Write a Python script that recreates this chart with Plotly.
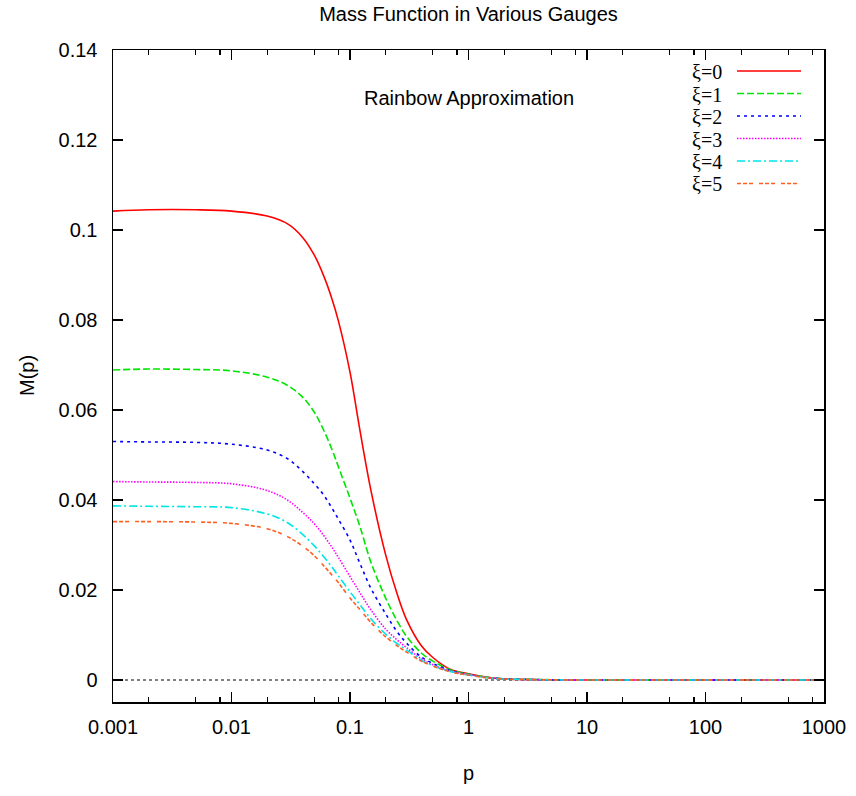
import plotly.graph_objects as go

# ---- data ----
p = [0.001, 0.002, 0.005, 0.01, 0.02, 0.03, 0.04, 0.05, 0.06, 0.07, 0.08, 0.1,
     0.12, 0.15, 0.2, 0.25, 0.3, 0.4, 0.5, 0.7, 1, 1.5, 2, 3, 5, 10, 100, 1000]

m_xi0 = [0.1042, 0.1045, 0.1045, 0.1042, 0.1031, 0.1013, 0.0983, 0.0944, 0.0898, 0.0849,
         0.0797, 0.0684, 0.0562, 0.0422, 0.0278, 0.0191, 0.0134, 0.0076, 0.0050, 0.0024,
         0.0014, 0.00056, 0.00022, 0.00011, 0.00004, 0.0, 0.0, 0.0]
m_xi1 = [0.0689, 0.0691, 0.0690, 0.0687, 0.0673, 0.0654, 0.0628, 0.0595, 0.0555, 0.0514,
         0.0473, 0.0404, 0.0345, 0.0262, 0.0182, 0.0131, 0.0097, 0.0060, 0.0042, 0.0023,
         0.0013, 0.00056, 0.00029, 0.00016, 0.00007, 0.0, 0.0, 0.0]
m_xi2 = [0.0530, 0.0529, 0.0528, 0.0524, 0.0511, 0.0491, 0.0463, 0.0436, 0.0411, 0.0383,
         0.0357, 0.0311, 0.0262, 0.0204, 0.0147, 0.0107, 0.0082, 0.0051, 0.0037, 0.0021,
         0.0012, 0.00051, 0.00027, 0.00013, 0.00004, 0.0, 0.0, 0.0]
m_xi3 = [0.0441, 0.0440, 0.0439, 0.0436, 0.0421, 0.0399, 0.0372, 0.0347, 0.0321, 0.0296,
         0.0272, 0.0230, 0.0196, 0.0156, 0.0113, 0.0089, 0.0072, 0.0047, 0.0034, 0.0020,
         0.0012, 0.00049, 0.00024, 0.00011, 0.00004, 0.0, 0.0, 0.0]
m_xi4 = [0.0387, 0.0386, 0.0385, 0.0383, 0.0369, 0.0349, 0.0323, 0.0298, 0.0274, 0.0252,
         0.0231, 0.0196, 0.0169, 0.0136, 0.0102, 0.0081, 0.0067, 0.0044, 0.0032, 0.0019,
         0.0011, 0.00044, 0.00022, 0.00011, 0.00004, 0.0, 0.0, 0.0]
m_xi5 = [0.0352, 0.0352, 0.0351, 0.0348, 0.0336, 0.0318, 0.0297, 0.0276, 0.0254, 0.0234,
         0.0216, 0.0182, 0.0158, 0.0128, 0.0096, 0.0076, 0.0062, 0.0042, 0.0031, 0.0018,
         0.0011, 0.00044, 0.00022, 0.00011, 0.00004, 0.0, 0.0, 0.0]

series_names = ["ξ=0", "ξ=1", "ξ=2", "ξ=3", "ξ=4", "ξ=5"]
series_vals = [m_xi0, m_xi1, m_xi2, m_xi3, m_xi4, m_xi5]

x_tickvals = [0.001, 0.01, 0.1, 1, 10, 100, 1000]
x_ticktext = ["0.001", "0.01", "0.1", "1", "10", "100", "1000"]
y_tickvals = [0, 0.02, 0.04, 0.06, 0.08, 0.1, 0.12, 0.14]
y_ticktext = ["0", "0.02", "0.04", "0.06", "0.08", "0.1", "0.12", "0.14"]

# ---- styles ----
colors = ["#ff0000", "#00e600", "#0000ff", "#ff00ff", "#00e6e6", "#ff6020"]
dashes = ["solid", "7px,3px", "3px,4px", "1.5px,1.5px", "8px,3px,2px,3px", "4px,2px,4px,2px,4px,6px"]

W, H = 856, 796
PL, PR, PT, PB = 113, 824, 50, 702          # plot box in page pixels
L, R, T, B = PL, W - PR, PT, H - PB
pw, ph = PR - PL, PB - PT

def px2x(x):
    return (x - PL) / pw

def px2y(y):
    return (PB - y) / ph

sans = "Liberation Sans, Arial, sans-serif"
serif = "Liberation Serif, Times New Roman, serif"

fig = go.Figure()
for name, vals, c, d in zip(series_names, series_vals, colors, dashes):
    fig.add_trace(go.Scatter(x=p, y=vals, mode="lines", name=name,
                             line=dict(color=c, width=1.6, dash=d, shape="spline", smoothing=1.0),
                             showlegend=False))

minor_vals = []
for dec in [0.001, 0.01, 0.1, 1, 10, 100]:
    for k in (2, 5, 8):
        minor_vals.append(dec * k)

fig.update_layout(
    width=W, height=H,
    margin=dict(l=L, r=R, t=T, b=B, pad=0, autoexpand=False),
    paper_bgcolor="white", plot_bgcolor="white",
    font=dict(family=sans, size=20, color="black"),
    title=dict(text="Mass Function in Various Gauges", x=0.5 * (PL + PR) / W, xanchor="center",
               y=1 - 14 / H, yanchor="middle", yref="container",
               font=dict(family=sans, size=20, color="black")),
    xaxis=dict(type="log", range=[-3, 3], tickvals=x_tickvals, ticktext=x_ticktext,
               ticks="inside", ticklen=10, tickwidth=1.2, tickcolor="black",
               showline=True, linecolor="black", linewidth=1.5, mirror="ticks",
               showgrid=False, zeroline=False, ticklabelstandoff=6, automargin=False,
               tickfont=dict(family=sans, size=20),
               minor=dict(tickmode="array", tickvals=minor_vals, ticks="inside", ticklen=5,
                          tickwidth=1.2, tickcolor="black", showgrid=False)),
    yaxis=dict(range=[-22 / 4500, 0.14], tickvals=y_tickvals, ticktext=y_ticktext,
               ticks="inside", ticklen=10, tickwidth=1.2, tickcolor="black",
               showline=True, linecolor="black", linewidth=1.5, mirror="ticks",
               showgrid=False, zeroline=False, ticklabelstandoff=10, automargin=False,
               tickfont=dict(family=sans, size=20)),
)

# zero axis (dotted)
fig.add_shape(type="line", xref="paper", yref="y", x0=0, x1=1, y0=0, y1=0,
              line=dict(color="black", width=1, dash="dot"), layer="below")

# axis titles and inner label
fig.add_annotation(text="p", xref="paper", yref="paper", x=0.5, y=px2y(773),
                   showarrow=False, xanchor="center", yanchor="middle",
                   font=dict(family=sans, size=20))
fig.add_annotation(text="M(p)", xref="paper", yref="paper", x=px2x(27), y=px2y(376),
                   showarrow=False, xanchor="center", yanchor="middle", textangle=-90,
                   font=dict(family=sans, size=20))
fig.add_annotation(text="Rainbow Approximation", xref="paper", yref="paper", x=px2x(469), y=px2y(98),
                   showarrow=False, xanchor="center", yanchor="middle",
                   font=dict(family=sans, size=20))

# legend (text on the left, line sample on the right)
for i, (name, c, d) in enumerate(zip(series_names, colors, dashes)):
    yy = 71 + i * 22.5
    fig.add_annotation(text=name, xref="paper", yref="paper", x=px2x(724), y=px2y(yy + 1),
                       showarrow=False, xanchor="right", yanchor="middle",
                       font=dict(family=serif, size=20, color="black"))
    fig.add_shape(type="line", xref="paper", yref="paper", x0=px2x(737), x1=px2x(801),
                  y0=px2y(yy), y1=px2y(yy), line=dict(color=c, width=1.6, dash=d))

# remove the default 8px page margin so the figure fills the window exactly
fig.write_html("out.html", config={"displayModeBar": False, "staticPlot": True},
               post_script="document.body.style.margin='0';document.body.style.overflow='hidden';")
